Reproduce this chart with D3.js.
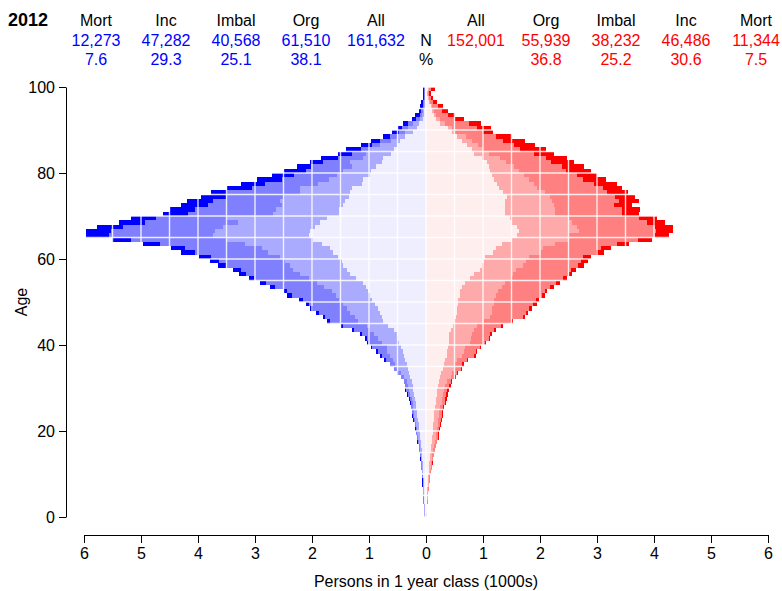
<!DOCTYPE html>
<html>
<head>
<meta charset="utf-8">
<script src="https://cdn.jsdelivr.net/npm/d3@7"></script>
<style>
  body { margin: 0; background: #fff; }
  svg { display: block; }
  text { font-family: "Liberation Sans", Arial, Helvetica, sans-serif; }
</style>
</head>
<body>
<svg id="chart" width="782" height="591"></svg>
<script>
// Prevalent diabetes population 2012 by age and sex, split by contribution source
const yearLabel = "2012";
const ages = d3.range(0, 100);              // 1-year age classes 0..99
const layerKeys = ["org", "imbal", "inc", "mort"];   // stacked from the centre outwards

// Men (thousands of persons per 1-year class)
const maleOrg = [
  .022,.025,.025,.029,.031,.033,.036,.038,.040,.044,
  .047,.055,.056,.062,.065,.074,.081,.093,.100,.112,
  .118,.124,.137,.152,.155,.168,.174,.187,.206,.226,
  .235,.25,.28,.29,.31,.34,.37,.39,.40,.43,
  .47,.50,.51,.57,.66,.75,.78,.81,.84,.89,
  .94,.98,1.01,1.05,1.10,1.23,1.33,1.39,1.45,1.48,
  1.54,1.63,1.68,1.83,1.98,2.06,2.04,1.95,1.86,1.73,
  1.52,1.52,1.45,1.42,1.35,1.33,1.30,1.12,1.10,.98,
  .96,.87,.78,.75,.62,.57,.51,.45,.37,.22,
  .16,.13,.06,.04,.03,.02,.015,.01,.01,.01
];
const maleImbal = [
  .007,.008,.009,.010,.011,.012,.013,.014,.014,.015,
  .017,.019,.020,.022,.023,.026,.029,.033,.035,.040,
  .042,.044,.048,.054,.055,.059,.062,.066,.073,.079,
  .085,.09,.11,.14,.20,.20,.21,.24,.28,.26,
  .31,.35,.41,.41,.37,.44,.47,.52,.55,.56,
  .58,.60,.64,.74,.82,.82,.88,.94,.94,.99,
  1.02,1.14,1.20,1.35,1.52,1.68,1.66,1.61,1.43,1.77,
  1.17,1.11,1.08,1.14,1.14,.88,.91,.77,.60,.59,
  .49,.43,.55,.35,.43,.41,.30,.17,.14,.15,
  .15,.09,.05,.03,.02,.02,.015,.01,.01,.005
];
const maleInc = [
  .004,.005,.004,.006,.006,.006,.007,.007,.007,.008,
  .009,.010,.010,.012,.012,.015,.015,.018,.019,.021,
  .022,.024,.026,.029,.030,.032,.033,.035,.038,.042,
  .04,.04,.04,.07,.05,.09,.13,.14,.16,.26,
  .23,.19,.20,.28,.43,.49,.52,.54,.60,.60,
  .64,.77,.78,.86,.89,.96,.95,.92,1.12,1.17,
  1.21,1.28,1.35,1.49,1.68,1.82,1.83,1.76,1.64,1.23,
  1.48,1.42,1.29,1.17,1.02,1.29,.84,.93,.83,.75,
  .65,.71,.47,.44,.24,.16,.14,.19,.12,.10,
  .11,.09,.07,.04,.04,.02,.02,.02,.02,.015
];
const maleMort = [
  .002,.002,.002,.002,.002,.002,.002,.003,.003,.003,
  .003,.004,.004,.004,.005,.005,.005,.006,.006,.007,
  .008,.008,.009,.010,.010,.011,.011,.012,.013,.013,
  .01,.01,.01,.01,.01,.01,.03,.03,.03,.02,
  .03,.03,.04,.04,.04,.05,.03,.06,.05,.06,
  .07,.08,.07,.08,.10,.10,.12,.14,.14,.15,
  .21,.24,.24,.29,.33,.40,.43,.46,.46,.45,
  .44,.44,.48,.47,.44,.27,.44,.43,.43,.38,
  .39,.25,.23,.30,.25,.26,.19,.15,.13,.13,
  .08,.10,.07,.08,.04,.045,.03,.02,.02,.02
];

// Women (thousands of persons per 1-year class)
const femaleOrg = [
  .008,.010,.012,.015,.017,.020,.023,.030,.035,.038,
  .045,.052,.060,.065,.070,.080,.090,.100,.110,.115,
  .124,.129,.138,.143,.148,.158,.172,.177,.186,.196,
  .21,.23,.25,.27,.29,.32,.34,.36,.37,.38,
  .40,.40,.41,.43,.47,.49,.53,.54,.54,.56,
  .57,.59,.60,.63,.68,.78,.84,.94,.98,1.01,
  1.04,1.17,1.23,1.33,1.50,1.60,1.63,1.60,1.51,1.48,
  1.38,1.39,1.38,1.39,1.42,1.35,1.28,1.25,1.19,1.15,
  1.13,1.10,1.07,.98,.85,.80,.72,.63,.55,.46,
  .38,.25,.18,.14,.11,.08,.05,.03,.02,.03
];
const femaleImbal = [
  .004,.006,.007,.008,.010,.011,.014,.017,.020,.021,
  .025,.030,.034,.036,.039,.045,.050,.056,.062,.064,
  .071,.074,.080,.083,.086,.092,.101,.104,.110,.116,
  .13,.14,.18,.19,.20,.19,.20,.27,.29,.31,
  .38,.39,.40,.41,.42,.52,.60,.61,.62,.63,
  .63,.64,.66,.70,.71,.72,.68,.64,.72,.74,
  .76,.85,.82,.94,1.00,.90,1.05,1.05,1.05,1.02,
  .89,.88,.86,.82,.76,.74,.67,.65,.61,.57,
  .50,.45,.33,.32,.25,.20,.20,.18,.15,.05,
  .07,.08,.06,.04,.03,.03,.02,.02,.01,.02
];
const femaleInc = [
  .002,.003,.004,.005,.006,.007,.007,.009,.011,.012,
  .015,.017,.019,.021,.023,.025,.029,.032,.035,.037,
  .040,.041,.045,.047,.048,.051,.056,.057,.061,.064,
  .07,.07,.07,.08,.12,.13,.18,.22,.22,.26,
  .26,.31,.32,.35,.42,.49,.57,.60,.64,.69,
  .73,.81,.82,.85,.89,.90,.98,.96,.96,.97,
  .95,.97,1.02,1.08,1.22,1.51,1.36,1.37,1.32,1.23,
  1.16,1.16,1.06,1.17,1.14,1.09,1.15,1.05,.95,.93,
  .82,.83,.80,.80,.80,.65,.63,.54,.53,.49,
  .44,.43,.26,.20,.14,.10,.06,.04,.02,.04
];
const femaleMort = [
  .001,.001,.002,.002,.002,.002,.003,.004,.004,.005,
  .005,.006,.007,.008,.008,.010,.011,.012,.013,.014,
  .015,.016,.017,.017,.018,.019,.021,.022,.023,.024,
  .02,.02,.02,.02,.02,.02,.02,.02,.02,.02,
  .02,.02,.03,.04,.04,.03,.04,.04,.06,.07,
  .05,.04,.05,.06,.07,.08,.06,.10,.12,.12,
  .14,.13,.18,.21,.24,.26,.29,.31,.31,.32,
  .30,.33,.31,.35,.35,.37,.34,.40,.41,.35,
  .45,.39,.39,.37,.34,.46,.36,.39,.27,.17,
  .25,.205,.17,.12,.11,.09,.07,.04,.04,.06
];

// Header summary table
const headerNames = ["Mort", "Inc", "Imbal", "Org", "All"];
const maleN = [12273, 47282, 40568, 61510, 161632];
const malePct = [7.6, 29.3, 25.1, 38.1, null];
const femaleN = [11344, 46486, 38232, 55939, 152001];
const femalePct = [7.5, 30.6, 25.2, 36.8, null];

// Axis ticks
const ageTicks = [0, 20, 40, 60, 80, 100];
const personTicks = [-6, -5, -4, -3, -2, -1, 0, 1, 2, 3, 4, 5, 6];

const maleColors = { org: "#eeeeff", imbal: "#aaaaff", inc: "#8080ff", mort: "#0000ff" };
const femaleColors = { org: "#ffeeee", imbal: "#ffaaaa", inc: "#ff8080", mort: "#ff0000" };

const svg = d3.select("#chart");
const x = d3.scaleLinear().domain([-6, 6]).range([84, 768]);
const y = d3.scaleLinear().domain([0, 100]).range([517, 87]);
const font = '"Liberation Sans", Arial, Helvetica, sans-serif';

function drawSide(sign, series, colors) {
  const rows = ages.map((a, i) => ({
    age: a,
    org: series.org[i], imbal: series.imbal[i], inc: series.inc[i], mort: series.mort[i]
  }));
  const stacked = d3.stack().keys(layerKeys)(rows);
  svg.append("g")
    .selectAll("g")
    .data(stacked)
    .join("g")
      .attr("fill", d => colors[d.key])
    .selectAll("rect")
    .data(d => d)
    .join("rect")
      .attr("shape-rendering", "crispEdges")
      .attr("x", d => Math.min(x(sign * d[0]), x(sign * d[1])))
      .attr("width", d => Math.abs(x(sign * d[1]) - x(sign * d[0])))
      .attr("y", d => y(d.data.age + 1))
      .attr("height", d => y(d.data.age) - y(d.data.age + 1));
}

drawSide(-1, { org: maleOrg, imbal: maleImbal, inc: maleInc, mort: maleMort }, maleColors);
drawSide(1, { org: femaleOrg, imbal: femaleImbal, inc: femaleInc, mort: femaleMort }, femaleColors);

// White reference grid drawn over the bars
const grid = svg.append("g")
  .attr("stroke", "#ffffff")
  .attr("stroke-width", 1.4)
  .attr("stroke-opacity", 0.85);
grid.selectAll("line.gx")
  .data(x.ticks(24))
  .join("line")
    .attr("class", "gx")
    .attr("x1", d => x(d)).attr("x2", d => x(d))
    .attr("y1", y(100)).attr("y2", y(0));
grid.selectAll("line.gy")
  .data(y.ticks(20))
  .join("line")
    .attr("class", "gy")
    .attr("x1", x(-6)).attr("x2", x(6))
    .attr("y1", d => y(d)).attr("y2", d => y(d));

// Axes
const yAxis = svg.append("g")
  .attr("transform", "translate(66,0)")
  .call(d3.axisLeft(y).tickValues(ageTicks).tickSize(7).tickSizeOuter(0).tickPadding(4));
const xAxis = svg.append("g")
  .attr("transform", "translate(0,535)")
  .call(d3.axisBottom(x).tickValues(personTicks).tickSize(8).tickSizeOuter(0).tickPadding(5)
    .tickFormat(d => Math.abs(d)));
[yAxis, xAxis].forEach(g => {
  g.attr("font-family", font).attr("font-size", 16);
  g.selectAll("text").attr("fill", "#000");
  g.selectAll("line, path").attr("stroke", "#000");
});

svg.append("text")
  .attr("x", 426).attr("y", 587)
  .attr("text-anchor", "middle")
  .attr("font-size", 16)
  .text("Persons in 1 year class (1000s)");

svg.append("text")
  .attr("transform", "translate(27,302) rotate(-90)")
  .attr("text-anchor", "middle")
  .attr("font-size", 16)
  .text("Age");

// Header
svg.append("text")
  .attr("x", 8).attr("y", 26)
  .attr("font-size", 18).attr("font-weight", "bold")
  .text(yearLabel);

const maleCols = [96, 166, 236, 306, 376];
const femaleCols = [756, 686, 616, 546, 476];
const fmtN = d3.format(",");
const fmtP = d3.format(".1f");
const rowY = { name: 26, n: 46, pct: 65 };

function header(cols, counts, pcts, color) {
  const g = svg.append("g").attr("font-size", 16).attr("text-anchor", "middle");
  headerNames.forEach((name, i) => {
    g.append("text").attr("x", cols[i]).attr("y", rowY.name).attr("fill", "#000").text(name);
    g.append("text").attr("x", cols[i]).attr("y", rowY.n).attr("fill", color).text(fmtN(counts[i]));
    if (pcts[i] != null) {
      g.append("text").attr("x", cols[i]).attr("y", rowY.pct).attr("fill", color).text(fmtP(pcts[i]));
    }
  });
}
header(maleCols, maleN, malePct, "#0000ff");
header(femaleCols, femaleN, femalePct, "#ff0000");

svg.append("text").attr("x", 426).attr("y", rowY.n).attr("text-anchor", "middle").attr("font-size", 16).text("N");
svg.append("text").attr("x", 426).attr("y", rowY.pct).attr("text-anchor", "middle").attr("font-size", 16).text("%");
</script>
</body>
</html>
